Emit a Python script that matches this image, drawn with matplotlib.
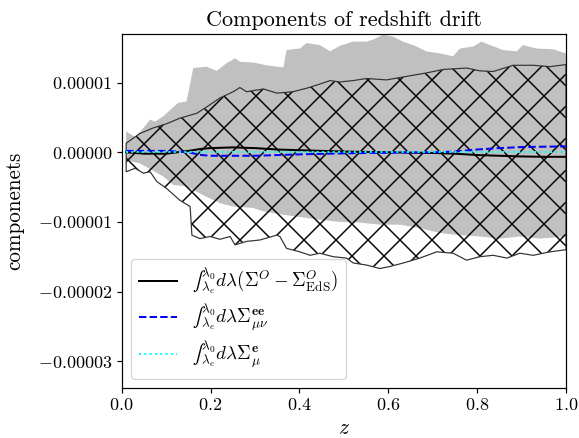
import matplotlib
matplotlib.use("Agg")
import matplotlib.pyplot as plt
import numpy as np
from matplotlib.ticker import FuncFormatter

# ---------------- data (values in units of 1e-5) ----------------
SCALE = 1e-5

z_lines = [0.01, 0.05, 0.10, 0.15, 0.18, 0.20, 0.25, 0.30, 0.35, 0.40, 0.50,
           0.60, 0.70, 0.75, 0.80, 0.85, 0.90, 0.95, 1.00]
black_sigmaO = [0.0, -0.02, -0.02, 0.02, 0.05, 0.06, 0.07, 0.06, 0.04, 0.03, 0.01,
                0.0, -0.01, -0.02, -0.04, -0.05, -0.06, -0.065, -0.065]
blue_sigma_ee = [0.02, 0.02, 0.02, 0.0, -0.04, -0.05, -0.05, -0.05, -0.04, -0.03, -0.015,
                 -0.005, 0.0, 0.01, 0.04, 0.06, 0.075, 0.08, 0.085]
cyan_sigma_e = [0.0] * len(z_lines)

z_grey_up = [0.01, 0.03, 0.045, 0.064, 0.075, 0.094, 0.113, 0.127, 0.146, 0.161, 0.191,
             0.214, 0.236, 0.255, 0.266, 0.296, 0.326, 0.364, 0.371, 0.401, 0.416, 0.446,
             0.469, 0.491, 0.521, 0.551, 0.566, 0.589, 0.611, 0.633, 0.656, 0.686, 0.716,
             0.746, 0.761, 0.791, 0.810, 0.829, 0.858, 0.889, 0.903, 0.934, 0.971, 1.0]
grey_up = [0.30, 0.22, 0.32, 0.47, 0.44, 0.52, 0.63, 0.71, 0.73, 1.21, 1.23,
           1.17, 1.28, 1.35, 1.30, 1.29, 1.25, 1.22, 1.47, 1.49, 1.57, 1.54,
           1.45, 1.53, 1.59, 1.59, 1.62, 1.69, 1.66, 1.59, 1.54, 1.45, 1.42,
           1.38, 1.49, 1.52, 1.59, 1.54, 1.47, 1.45, 1.54, 1.49, 1.48, 1.42]
z_grey_lo = [0.01, 0.041, 0.094, 0.116, 0.146, 0.169, 0.191, 0.221, 0.251, 0.296, 0.319,
             0.356, 0.401, 0.446, 0.491, 0.536, 0.581, 0.626, 0.671, 0.716, 0.761,
             0.806, 0.851, 0.896, 0.941, 1.0]
grey_lo = [-0.11, -0.16, -0.35, -0.47, -0.49, -0.57, -0.64, -0.73, -0.78, -0.80, -0.85,
           -0.89, -0.93, -0.97, -1.00, -1.01, -1.04, -1.04, -1.09, -1.16, -1.19,
           -1.21, -1.24, -1.21, -1.24, -1.21]

z_hatch_up = [0.01, 0.041, 0.071, 0.101, 0.131, 0.169, 0.191, 0.221, 0.251, 0.266, 0.281,
              0.319, 0.349, 0.386, 0.416, 0.446, 0.469, 0.491, 0.521, 0.551, 0.596,
              0.641, 0.686, 0.724, 0.776, 0.806, 0.836, 0.881, 0.926, 0.964, 1.0]
hatch_up = [0.13, 0.27, 0.35, 0.41, 0.49, 0.56, 0.65, 0.78, 0.87, 0.93, 0.87,
            0.91, 0.85, 0.87, 0.92, 0.98, 1.03, 1.01, 1.03, 1.06, 1.04,
            1.09, 1.14, 1.19, 1.21, 1.17, 1.16, 1.25, 1.25, 1.23, 1.26]
z_hatch_lo = [0.01, 0.030, 0.049, 0.064, 0.079, 0.101, 0.131, 0.154, 0.158, 0.176, 0.199,
              0.221, 0.244, 0.255, 0.281, 0.311, 0.349, 0.356, 0.371, 0.401, 0.424,
              0.446, 0.476, 0.506, 0.521, 0.551, 0.581, 0.604, 0.634, 0.671, 0.709,
              0.746, 0.776, 0.806, 0.836, 0.867, 0.896, 0.926, 0.964, 1.0]
hatch_lo = [-0.28, -0.23, -0.30, -0.28, -0.42, -0.52, -0.69, -0.78, -1.19, -1.24, -1.21,
            -1.25, -1.21, -1.33, -1.28, -1.26, -1.19, -1.21, -1.38, -1.43, -1.48,
            -1.45, -1.50, -1.52, -1.59, -1.62, -1.67, -1.64, -1.59, -1.52, -1.43,
            -1.45, -1.55, -1.50, -1.48, -1.52, -1.45, -1.48, -1.43, -1.40]

x_ticks = [0.0, 0.2, 0.4, 0.6, 0.8, 1.0]
y_ticks = [-3e-5, -2e-5, -1e-5, 0.0, 1e-5]

labels = ['$\u222b_{\\lambda_e}^{\\lambda_0} d\\lambda(\\Sigma^O - \\Sigma^O_{\\rm EdS})$',
          '$\u222b_{\\lambda_e}^{\\lambda_0} d\\lambda\\Sigma^{\\mathbf{ee}}_{\\mu\\nu}$',
          '$\u222b_{\\lambda_e}^{\\lambda_0} d\\lambda\\Sigma^{\\mathbf{e}}_{\\mu}$']

# ---------------- style ----------------
DPI = 96
plt.rcParams.update({
    'font.family': 'serif',
    'font.serif': ['cmr10', 'DejaVu Serif'],
    'mathtext.fontset': 'cm',
    'axes.formatter.use_mathtext': True,
    'axes.unicode_minus': True,
    'axes.linewidth': 0.9,
    'xtick.major.width': 0.9,
    'ytick.major.width': 0.9,
    'xtick.major.size': 3.5,
    'ytick.major.size': 3.5,
    'xtick.major.pad': 3.5,
    'ytick.major.pad': 3.5,
    'hatch.linewidth': 1.1,
    'hatch.color': 'black',
})

fig = plt.figure(figsize=(579 / DPI, 438 / DPI), dpi=DPI)
ax = fig.add_axes([0.2102, 0.1142, 0.7674, 0.8075])

def sc(a):
    return np.asarray(a) * SCALE

# grey band
ax.fill(np.concatenate([z_grey_up, z_grey_lo[::-1]]),
        np.concatenate([sc(grey_up), sc(grey_lo)[::-1]]),
        facecolor='#c0c0c0', edgecolor='none', linewidth=0, zorder=1)

# hatched region
hx = np.concatenate([z_hatch_up, z_hatch_lo[::-1]])
hy = np.concatenate([sc(hatch_up), sc(hatch_lo)[::-1]])
ax.fill(hx, hy, facecolor='none', edgecolor='black', linewidth=0, hatch='x', zorder=2)
ax.fill(hx, hy, facecolor='none', edgecolor='0.2', linewidth=0.9, zorder=2)

# lines
ax.plot(z_lines, sc(black_sigmaO), color='black', lw=1.5, ls='-', label=labels[0], zorder=3)
ax.plot(z_lines, sc(blue_sigma_ee), color='blue', lw=1.5, ls='--', label=labels[1], zorder=3)
ax.plot(z_lines, sc(cyan_sigma_e), color='cyan', lw=1.5, ls=':', label=labels[2], zorder=3)

ax.set_xlim(0.0, 1.0)
ax.set_ylim(-3.386e-5, 1.695e-5)
ax.set_xticks(x_ticks)
ax.set_yticks(y_ticks)
ax.xaxis.set_major_formatter(FuncFormatter(lambda v, p: r'$%.1f$' % v))
ax.yaxis.set_major_formatter(FuncFormatter(lambda v, p: r'$%.5f$' % (0.0 if abs(v) < 1e-12 else v)))
ax.tick_params(labelsize=13.6)

ax.set_title('Components of redshift drift', fontsize=16.6, pad=6)
ax.set_xlabel(r'$z$', fontsize=16, labelpad=4)
ax.set_ylabel('componenets', fontsize=15.8, labelpad=10)

leg = ax.legend(loc='lower left', fontsize=14.2, frameon=True, fancybox=True,
                framealpha=0.8, edgecolor='0.8', borderaxespad=0.5, labelspacing=0.3)
leg.get_frame().set_linewidth(1.0)

fig.savefig('out.png', dpi=DPI)
